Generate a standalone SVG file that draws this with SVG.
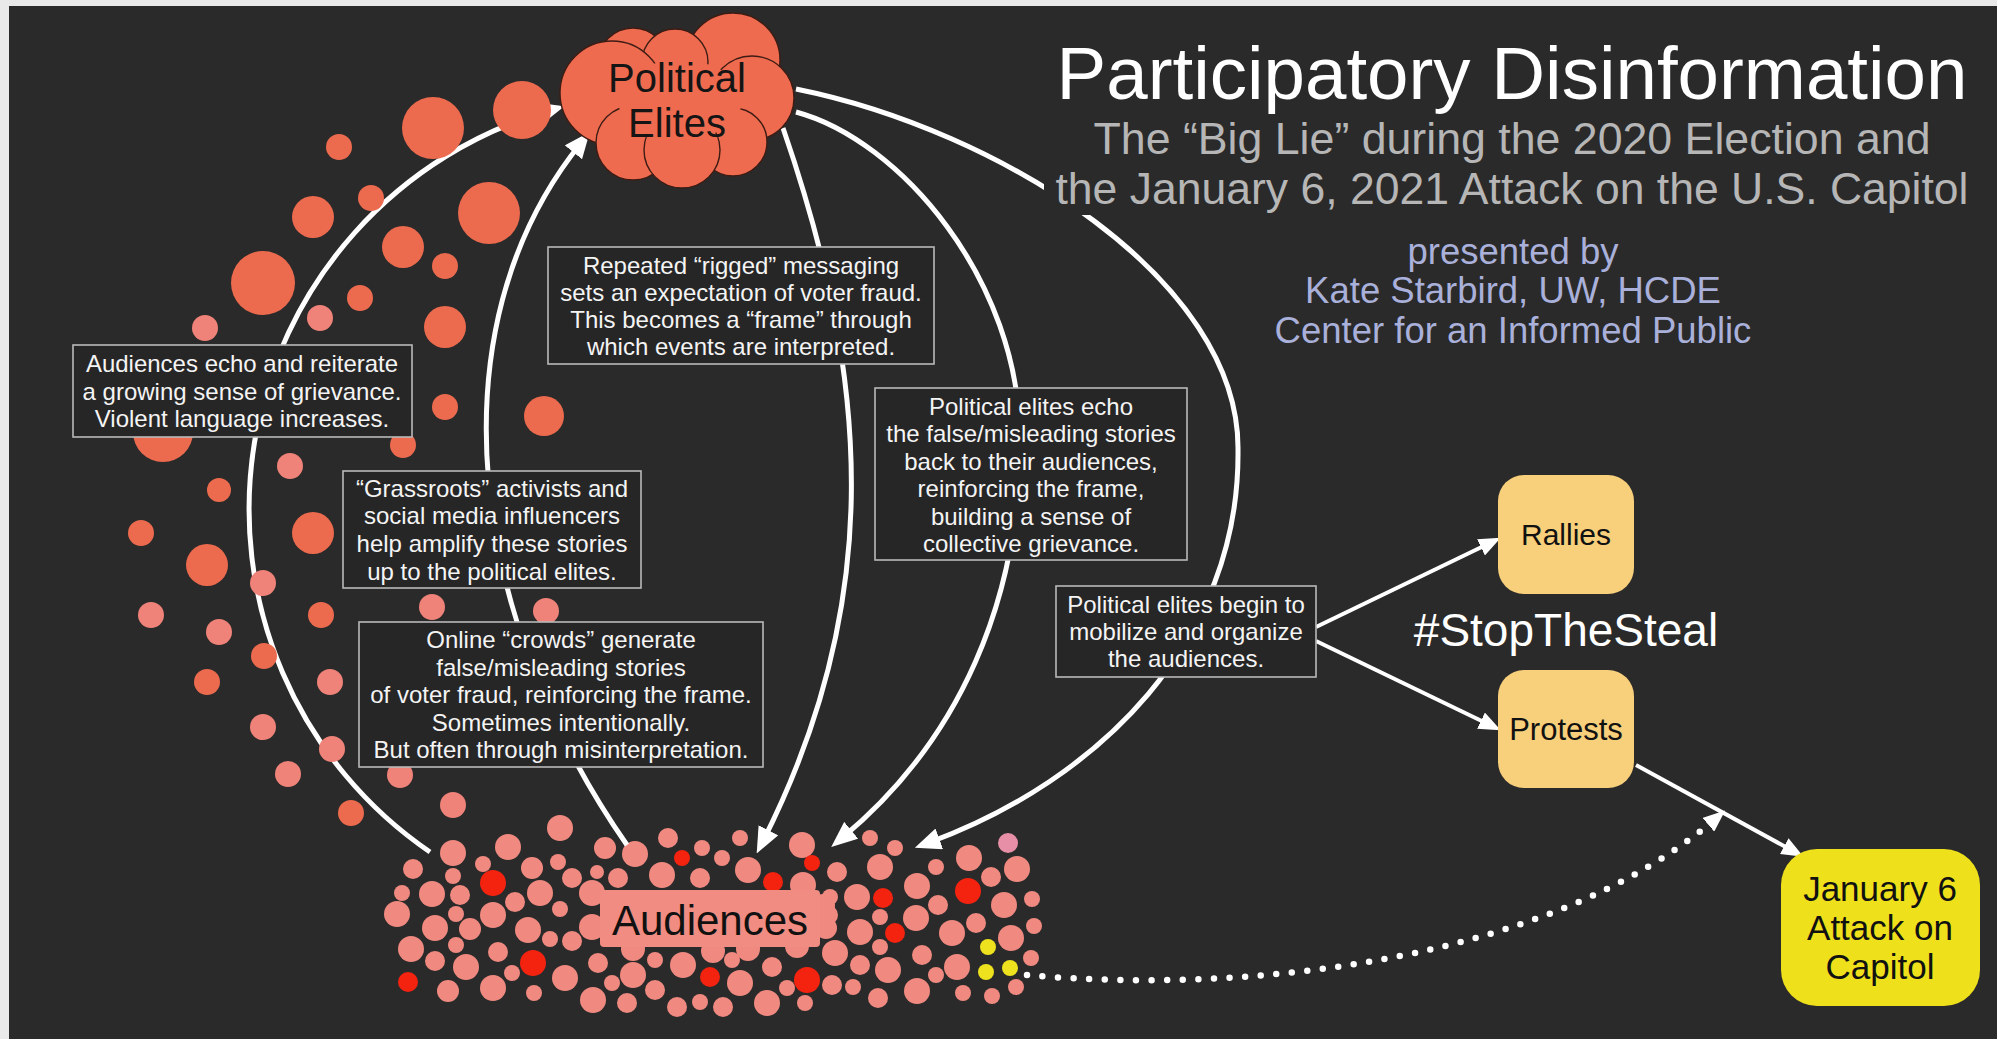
<svg xmlns="http://www.w3.org/2000/svg" width="1997" height="1039" viewBox="0 0 1997 1039">
  <style>
    .sans { font-family: "Liberation Sans", Arial, Helvetica, sans-serif; }
    .wire { fill: none; stroke: #ffffff; stroke-width: 5; }
    .thin { fill: none; stroke: #ffffff; stroke-width: 4; }
    .dots { fill: none; stroke: #ffffff; stroke-width: 6.5; stroke-linecap: round; stroke-dasharray: 0 15.6; }
    .note rect { fill: #272626; stroke: #b9b9b9; stroke-width: 1.6; }
    .note text { fill: #f4f4f4; font-size: 24px; text-anchor: middle; }
    .lobe { fill: #ee6b4f; stroke: #3e1c14; stroke-width: 1.4; }
    .co { fill: #ec6a4e; }
    .pk { fill: #ef8379; }
    .a { fill: #f08a80; }
    .r { fill: #f3230f; }
    .y { fill: #eee21e; }
    .m { fill: #e78fa7; }
    .box text { fill: #111111; text-anchor: middle; }
  </style>
  <defs>
    <marker id="head" markerUnits="userSpaceOnUse" markerWidth="26" markerHeight="22" refX="12" refY="11" orient="auto">
      <path d="M0,0 L26,11 L0,22 Z" fill="#ffffff"/>
    </marker>
    <marker id="head-sm" markerUnits="userSpaceOnUse" markerWidth="22" markerHeight="18" refX="10" refY="9" orient="auto">
      <path d="M0,0 L22,9 L0,18 Z" fill="#ffffff"/>
    </marker>
  </defs>

  <!-- frame and background -->
  <rect x="0" y="0" width="1997" height="1039" fill="#e9e9e9"/>
  <rect x="9" y="6" width="1988" height="1033" fill="#2b2a2a"/>

  <!-- crowd of audience members -->
  <g id="audiences">
    <g class="a">
      <circle cx="453" cy="853" r="13"/><circle cx="508" cy="847" r="13"/><circle cx="560" cy="828" r="13"/>
      <circle cx="413" cy="869" r="10"/><circle cx="483" cy="864" r="8"/><circle cx="453" cy="876" r="8"/>
      <circle cx="532" cy="868" r="11"/><circle cx="558" cy="862" r="8"/><circle cx="572" cy="878" r="10"/>
      <circle cx="597" cy="872" r="7"/><circle cx="605" cy="848" r="11"/><circle cx="635" cy="854" r="13"/>
      <circle cx="668" cy="838" r="10"/><circle cx="702" cy="848" r="8"/><circle cx="722" cy="858" r="8"/>
      <circle cx="740" cy="838" r="8"/><circle cx="748" cy="870" r="13"/><circle cx="802" cy="845" r="13"/>
      <circle cx="837" cy="872" r="10"/><circle cx="870" cy="838" r="8"/><circle cx="880" cy="867" r="13"/>
      <circle cx="895" cy="848" r="8"/><circle cx="662" cy="875" r="13"/><circle cx="700" cy="878" r="10"/>
      <circle cx="618" cy="878" r="10"/><circle cx="402" cy="893" r="8"/><circle cx="432" cy="894" r="13"/>
      <circle cx="460" cy="895" r="10"/><circle cx="515" cy="902" r="10"/><circle cx="540" cy="893" r="13"/>
      <circle cx="560" cy="909" r="8"/><circle cx="592" cy="893" r="13"/><circle cx="397" cy="914" r="13"/>
      <circle cx="493" cy="915" r="13"/><circle cx="456" cy="914" r="8"/><circle cx="435" cy="928" r="13"/>
      <circle cx="470" cy="929" r="11"/><circle cx="528" cy="930" r="13"/><circle cx="550" cy="939" r="8"/>
      <circle cx="572" cy="941" r="10"/><circle cx="592" cy="927" r="13"/><circle cx="411" cy="949" r="13"/>
      <circle cx="456" cy="945" r="8"/><circle cx="498" cy="952" r="10"/><circle cx="435" cy="961" r="10"/>
      <circle cx="466" cy="967" r="13"/><circle cx="512" cy="973" r="8"/><circle cx="448" cy="991" r="11"/>
      <circle cx="493" cy="988" r="13"/><circle cx="534" cy="993" r="8"/><circle cx="565" cy="978" r="13"/>
      <circle cx="598" cy="963" r="10"/><circle cx="612" cy="983" r="8"/><circle cx="633" cy="975" r="13"/>
      <circle cx="655" cy="960" r="8"/><circle cx="655" cy="990" r="10"/><circle cx="683" cy="965" r="13"/>
      <circle cx="732" cy="960" r="8"/><circle cx="740" cy="983" r="13"/><circle cx="772" cy="967" r="10"/>
      <circle cx="787" cy="988" r="8"/><circle cx="832" cy="985" r="10"/><circle cx="853" cy="987" r="8"/>
      <circle cx="835" cy="953" r="13"/><circle cx="860" cy="965" r="10"/><circle cx="880" cy="947" r="8"/>
      <circle cx="888" cy="970" r="13"/><circle cx="860" cy="932" r="13"/><circle cx="880" cy="917" r="8"/>
      <circle cx="857" cy="897" r="13"/><circle cx="830" cy="897" r="8"/><circle cx="828" cy="915" r="10"/>
      <circle cx="803" cy="885" r="13"/><circle cx="593" cy="1000" r="13"/><circle cx="627" cy="1003" r="10"/>
      <circle cx="677" cy="1007" r="10"/><circle cx="700" cy="1002" r="8"/><circle cx="723" cy="1007" r="10"/>
      <circle cx="767" cy="1003" r="13"/><circle cx="805" cy="1003" r="8"/><circle cx="878" cy="998" r="10"/>
      <circle cx="633" cy="949" r="12"/><circle cx="713" cy="951" r="12"/><circle cx="748" cy="949" r="12"/>
      <circle cx="797" cy="946" r="12"/><circle cx="823" cy="906" r="12"/><circle cx="826" cy="928" r="11"/>
      <circle cx="936" cy="867" r="8"/><circle cx="969" cy="858" r="13"/><circle cx="1017" cy="869" r="13"/>
      <circle cx="991" cy="877" r="10"/><circle cx="917" cy="886" r="13"/><circle cx="938" cy="905" r="10"/>
      <circle cx="1004" cy="905" r="13"/><circle cx="1032" cy="899" r="8"/><circle cx="916" cy="918" r="13"/>
      <circle cx="952" cy="933" r="13"/><circle cx="976" cy="923" r="10"/><circle cx="1011" cy="938" r="13"/>
      <circle cx="1034" cy="926" r="8"/><circle cx="922" cy="955" r="10"/><circle cx="957" cy="967" r="13"/>
      <circle cx="1031" cy="958" r="8"/><circle cx="936" cy="975" r="8"/><circle cx="917" cy="991" r="13"/>
      <circle cx="963" cy="993" r="8"/><circle cx="992" cy="996" r="8"/><circle cx="1016" cy="987" r="8"/>
    </g>
    <g class="r">
      <circle cx="493" cy="883" r="13"/><circle cx="682" cy="858" r="8"/><circle cx="773" cy="882" r="10"/>
      <circle cx="812" cy="863" r="8"/><circle cx="533" cy="963" r="13"/><circle cx="408" cy="982" r="10"/>
      <circle cx="710" cy="977" r="10"/><circle cx="807" cy="980" r="13"/><circle cx="883" cy="898" r="10"/>
      <circle cx="895" cy="933" r="10"/><circle cx="968" cy="891" r="13"/>
    </g>
    <g class="y">
      <circle cx="988" cy="947" r="8"/><circle cx="986" cy="972" r="8"/><circle cx="1010" cy="968" r="8"/>
    </g>
    <circle class="m" cx="1008" cy="843" r="10"/>
    <rect x="600" y="890" width="220" height="57" rx="4" fill="#f08c82"/>
    <text class="sans" x="710" y="935" font-size="42" fill="#111111" text-anchor="middle">Audiences</text>
  </g>

  <!-- flows between elites, audiences and outcomes -->
  <g id="connectors">
    <path class="wire" d="M430,852 A415,415 0 0 1 551,110" marker-end="url(#head)"/>
    <path class="wire" d="M627,845 C470,620 430,330 581,143" marker-end="url(#head)"/>
    <path class="wire" d="M783,128 C870,380 885,600 763,841" marker-end="url(#head)"/>
    <path class="wire" d="M796,112 C900,140 1020,280 1020,440 C1020,600 960,740 842,838" marker-end="url(#head)"/>
    <path class="wire" d="M796,89 C1000,130 1240,280 1238,450 C1240,640 1100,780 928,843" marker-end="url(#head)"/>
    <path class="thin" d="M1316,627 L1490,543" marker-end="url(#head-sm)"/>
    <path class="thin" d="M1316,641 L1490,725" marker-end="url(#head-sm)"/>
    <path class="thin" d="M1636,765 L1793,851" marker-end="url(#head-sm)"/>
    <path class="dots" d="M1027,975 C1250,995 1550,960 1714,820"/>
    <path d="M1714,820 L1716,818.3" fill="none" stroke="none" marker-end="url(#head-sm)"/>
  </g>

  <!-- trail of voices rising from the audience toward the elites -->
  <g id="grievance-trail">
    <g class="co">
      <circle cx="433" cy="128" r="31"/><circle cx="522" cy="110" r="29"/><circle cx="339" cy="147" r="13"/>
      <circle cx="371" cy="198" r="13"/><circle cx="313" cy="217" r="21"/><circle cx="489" cy="213" r="31"/>
      <circle cx="403" cy="247" r="21"/><circle cx="445" cy="266" r="13"/><circle cx="263" cy="283" r="32"/>
      <circle cx="360" cy="298" r="13"/><circle cx="445" cy="327" r="21"/><circle cx="163" cy="432" r="30"/>
      <circle cx="445" cy="407" r="13"/><circle cx="544" cy="416" r="20"/><circle cx="403" cy="445" r="13"/>
      <circle cx="219" cy="490" r="12"/><circle cx="141" cy="533" r="13"/><circle cx="313" cy="533" r="21"/>
      <circle cx="207" cy="565" r="21"/><circle cx="321" cy="615" r="13"/><circle cx="264" cy="656" r="13"/>
      <circle cx="207" cy="682" r="13"/><circle cx="351" cy="813" r="13"/>
    </g>
    <g class="pk">
      <circle cx="320" cy="318" r="13"/><circle cx="205" cy="328" r="13"/><circle cx="290" cy="466" r="13"/>
      <circle cx="263" cy="583" r="13"/><circle cx="151" cy="615" r="13"/><circle cx="432" cy="607" r="13"/>
      <circle cx="546" cy="611" r="13"/><circle cx="219" cy="632" r="13"/><circle cx="330" cy="682" r="13"/>
      <circle cx="263" cy="727" r="13"/><circle cx="332" cy="749" r="13"/><circle cx="288" cy="774" r="13"/>
      <circle cx="400" cy="775" r="13"/><circle cx="453" cy="805" r="13"/>
    </g>
  </g>

  <!-- cloud of political elites -->
  <g id="political-elites">
    <circle class="lobe" cx="733" cy="60" r="47"/>
    <circle class="lobe" cx="633" cy="63" r="35"/>
    <circle class="lobe" cx="675" cy="62" r="33"/>
    <circle class="lobe" cx="752" cy="98" r="42"/>
    <circle class="lobe" cx="612" cy="93" r="52"/>
    <circle class="lobe" cx="733" cy="142" r="34"/>
    <circle class="lobe" cx="633" cy="143" r="37"/>
    <circle class="lobe" cx="682" cy="150" r="38"/>
    <ellipse cx="680" cy="100" rx="62" ry="40" fill="#ee6b4f"/>
    <text class="sans" x="677" y="92" font-size="40" fill="#151515" text-anchor="middle">Political</text>
    <text class="sans" x="677" y="137" font-size="40" fill="#151515" text-anchor="middle">Elites</text>
  </g>

  <!-- explanatory notes -->
  <g id="note-echo" class="note sans">
    <rect x="73" y="345" width="339" height="92"/>
    <text x="242" y="372">Audiences echo and reiterate</text>
    <text x="242" y="400">a growing sense of grievance.</text>
    <text x="242" y="427">Violent language increases.</text>
  </g>
  <g id="note-rigged" class="note sans">
    <rect x="548" y="247" width="386" height="117"/>
    <text x="741" y="274">Repeated “rigged” messaging</text>
    <text x="741" y="301">sets an expectation of voter fraud.</text>
    <text x="741" y="328">This becomes a “frame” through</text>
    <text x="741" y="355">which events are interpreted.</text>
  </g>
  <g id="note-elites-echo" class="note sans">
    <rect x="875" y="388" width="312" height="172"/>
    <text x="1031" y="415">Political elites echo</text>
    <text x="1031" y="442">the false/misleading stories</text>
    <text x="1031" y="470">back to their audiences,</text>
    <text x="1031" y="497">reinforcing the frame,</text>
    <text x="1031" y="525">building a sense of</text>
    <text x="1031" y="552">collective grievance.</text>
  </g>
  <g id="note-grassroots" class="note sans">
    <rect x="343" y="471" width="298" height="117"/>
    <text x="492" y="497">“Grassroots” activists and</text>
    <text x="492" y="524">social media influencers</text>
    <text x="492" y="552">help amplify these stories</text>
    <text x="492" y="580">up to the political elites.</text>
  </g>
  <g id="note-crowds" class="note sans">
    <rect x="359" y="622" width="404" height="145"/>
    <text x="561" y="648">Online “crowds” generate</text>
    <text x="561" y="676">false/misleading stories</text>
    <text x="561" y="703">of voter fraud, reinforcing the frame.</text>
    <text x="561" y="731">Sometimes intentionally.</text>
    <text x="561" y="758">But often through misinterpretation.</text>
  </g>
  <g id="note-mobilize" class="note sans">
    <rect x="1056" y="586" width="260" height="91"/>
    <text x="1186" y="613">Political elites begin to</text>
    <text x="1186" y="640">mobilize and organize</text>
    <text x="1186" y="667">the audiences.</text>
  </g>

  <!-- offline outcomes -->
  <g id="rallies" class="box sans">
    <rect x="1498" y="475" width="136" height="119" rx="26" fill="#f8cf7b"/>
    <text x="1566" y="545" font-size="30">Rallies</text>
  </g>
  <g id="protests" class="box sans">
    <rect x="1498" y="670" width="136" height="118" rx="26" fill="#f8cf7b"/>
    <text x="1566" y="740" font-size="31">Protests</text>
  </g>
  <g id="jan6" class="box sans">
    <rect x="1781" y="849" width="199" height="157" rx="36" fill="#eee01b"/>
    <text x="1880" y="901" font-size="35">January 6</text>
    <text x="1880" y="940" font-size="35">Attack on</text>
    <text x="1880" y="979" font-size="35">Capitol</text>
  </g>
  <text id="hashtag" class="sans" x="1566" y="646" font-size="46" fill="#ffffff" text-anchor="middle">#StopTheSteal</text>

  <!-- title block -->
  <g id="title" class="sans" text-anchor="middle">
    <rect x="1044" y="118" width="945" height="97" fill="#2b2a2a"/>
    <text x="1512" y="99" font-size="74" fill="#ffffff" textLength="911" lengthAdjust="spacingAndGlyphs">Participatory Disinformation</text>
    <text x="1512" y="154" font-size="43.5" fill="#b6b6b6" textLength="837" lengthAdjust="spacingAndGlyphs">The “Big Lie” during the 2020 Election and</text>
    <text x="1512" y="204" font-size="43.5" fill="#b6b6b6" textLength="913" lengthAdjust="spacingAndGlyphs">the January 6, 2021 Attack on the U.S. Capitol</text>
    <text x="1513" y="264" font-size="36.5" fill="#a9b0da">presented by</text>
    <text x="1513" y="303" font-size="36.5" fill="#a9b0da">Kate Starbird, UW, HCDE</text>
    <text x="1513" y="343" font-size="36.5" fill="#a9b0da">Center for an Informed Public</text>
  </g>
</svg>
